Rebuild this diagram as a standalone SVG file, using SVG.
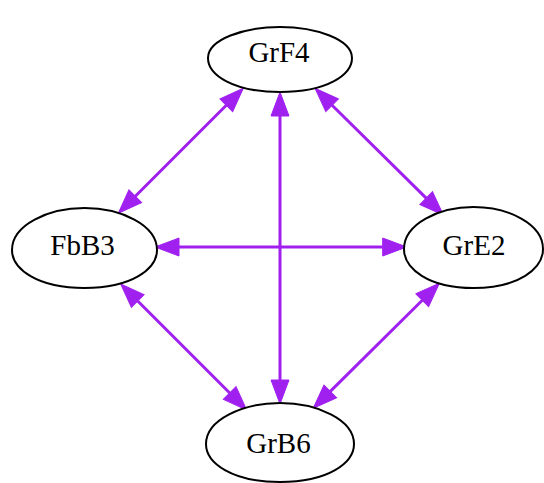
<svg xmlns="http://www.w3.org/2000/svg" width="544" height="483" viewBox="0 0 544 483">
<style>
.node path{fill:#ffffff;stroke:#000000;stroke-width:2}
.node text{font-family:"Liberation Serif","Times New Roman",serif;font-size:29px;fill:#000000;text-anchor:middle}
.edge line{stroke:#a020f0;stroke-width:3;marker-start:url(#ah);marker-end:url(#ah)}
</style>
<defs>
<marker id="ah" markerUnits="userSpaceOnUse" viewBox="0 -10 26 20" refX="0" refY="0" markerWidth="26" markerHeight="20" orient="auto-start-reverse" overflow="visible">
<path d="M0,-9 L24,0 L0,9 Z" fill="#a020f0" stroke="#a020f0" stroke-width="1"/>
</marker>
</defs>
<rect width="544" height="483" fill="#ffffff"/>
<g id="edges" class="edge">
<line x1="226.3" y1="105.3" x2="135.3" y2="196.3"/>
<line x1="332.1" y1="105.2" x2="426.2" y2="198.1"/>
<line x1="280" y1="116" x2="280" y2="380"/>
<line x1="179" y1="247" x2="382.7" y2="247"/>
<line x1="137.7" y1="301" x2="229.7" y2="393"/>
<line x1="422.3" y1="300.2" x2="330.3" y2="391.4"/>
</g>
<g id="GrF4" class="node">
<path d="M208,58 C208,39.4 244,27 280,27 C316,27 352,39.4 352,58 C352,75 326.8,92 280,92 C233.2,92 208,75 208,58Z"/>
<text x="279" y="62">GrF4</text>
</g>
<g id="FbB3" class="node">
<path d="M12,250 C12,224.8 48.25,208 84.5,208 C120.75,208 157,224.8 157,250 C157,269 131.6,288 84.5,288 C37.4,288 12,269 12,250Z"/>
<text x="82.5" y="255">FbB3</text>
</g>
<g id="GrE2" class="node">
<path d="M404,249 C404,223.8 438.75,207 473.5,207 C508.25,207 543,223.8 543,249 C543,268.5 518.7,288 473.5,288 C428.3,288 404,268.5 404,249Z"/>
<text x="474" y="255">GrE2</text>
</g>
<g id="GrB6" class="node">
<path d="M206,444 C206,419.4 243,403 280,403 C317,403 354,419.4 354,444 C354,463 328.1,482 280,482 C231.9,482 206,463 206,444Z"/>
<text x="278.5" y="453">GrB6</text>
</g>
</svg>
